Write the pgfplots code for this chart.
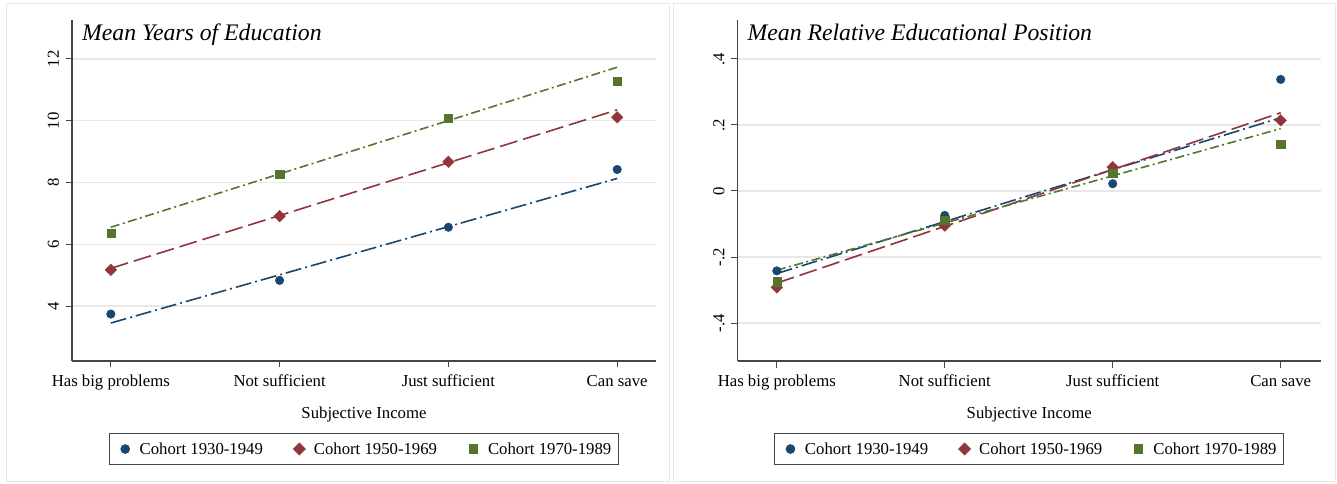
\documentclass[border=0pt]{standalone}
\usepackage{fontspec}
\setmainfont{Liberation Serif}
\usepackage{pgfplots}
\usepackage{pgfplotstable}
\pgfplotsset{compat=1.18}

\definecolor{snavy}{RGB}{26,71,111}
\definecolor{smaroon}{RGB}{144,53,59}
\definecolor{sgreen}{RGB}{85,117,47}
\definecolor{axgray}{RGB}{70,70,70}
\definecolor{bordergray}{RGB}{232,232,232}

% Mean years of education: points
\pgfplotstableread{
x y1 y2 y3
1 3.74 5.17 6.35
2 4.83 6.91 8.27
3 6.55 8.67 10.08
4 8.42 10.11 11.28
}\edu
% fitted lines
\pgfplotstableread{
x y1 y2 y3
1 3.45 5.22 6.55
4 8.13 10.35 11.73
}\edufit
% Mean relative educational position: points
\pgfplotstableread{
x y1 y2 y3
1 -0.242 -0.292 -0.275
2 -0.074 -0.105 -0.089
3 0.022 0.072 0.055
4 0.338 0.214 0.141
}\rel
\pgfplotstableread{
x y1 y2 y3
1 -0.250 -0.279 -0.240
4 0.222 0.237 0.189
}\relfit

\pgfplotsset{
  panel/.style={
    scale only axis, width=584bp, height=341bp,
    axis x line*=bottom, axis y line*=left,
    axis line style={axgray, line width=1.2bp},
    tick style={axgray, line width=1bp}, major tick length=6.5bp, tick align=outside,
    ymajorgrids, grid style={black!9, line width=1.4bp},
    xtick={1,2,3,4},
    xticklabels={Has big problems, Not sufficient, Just sufficient, Can save},
    font=\fontsize{16.8}{20}\selectfont,
    yticklabel style={rotate=90, anchor=south, yshift=3bp},
    xticklabel style={yshift=-4bp},
    xlabel={Subjective Income},
    xlabel style={at={(axis description cs:0.5,0)}, anchor=center, yshift=-53bp},
    title style={at={(axis description cs:0.017,0.922)}, anchor=base west, inner sep=0pt,
      font=\itshape\fontsize{23.8}{28}\selectfont},
    legend columns=3,
    legend style={at={(axis description cs:0.5,-0.2111)}, anchor=north, draw=axgray,
      line width=1bp, font=\fontsize{16.8}{20}\selectfont,
      /tikz/every even column/.append style={column sep=24bp},
      inner xsep=5bp, inner ysep=7bp},
    legend image code/.code={\path (0bp,0bp) (22bp,0bp); \draw[mark repeat=2,mark phase=2,#1] plot coordinates {(9bp,0bp)(10bp,0bp)(11bp,0bp)};},
  },
  ptA/.style={only marks, mark=*, mark size=4.3bp, color=snavy, mark options={solid, fill=snavy, draw=snavy}},
  ptB/.style={only marks, mark=square*, mark size=4.1bp, color=smaroon, mark options={solid, rotate=45, fill=smaroon, draw=smaroon}},
  ptC/.style={only marks, mark=square*, mark size=4.1bp, color=sgreen, mark options={solid, fill=sgreen, draw=sgreen}},
  lnA/.style={no marks, forget plot, color=snavy, line width=1.6bp, dash pattern=on 16bp off 4bp on 2bp off 4bp},
  lnB/.style={no marks, forget plot, color=smaroon, line width=1.6bp, dash pattern=on 18bp off 6bp},
  lnC/.style={no marks, forget plot, color=sgreen, line width=1.6bp, dash pattern=on 9bp off 3.5bp on 2bp off 3.5bp},
}

\begin{document}
\begin{tikzpicture}
\path[use as bounding box] (0,0) rectangle (1337bp,484bp);
\draw[bordergray, line width=1bp] (6bp,2bp) rectangle (669bp,480bp);
\draw[bordergray, line width=1bp] (673bp,2bp) rectangle (1335bp,480bp);

\begin{axis}[panel, at={(72bp,123bp)}, anchor=south west,
  xmin=0.77, xmax=4.23, ymin=2.22, ymax=13.26,
  ytick={4,6,8,10,12}, yticklabels={4,6,8,10,12},
  title={Mean Years of Education}]
  \addplot[lnA] table[x=x, y=y1] {\edufit};
  \addplot[lnB] table[x=x, y=y2] {\edufit};
  \addplot[lnC] table[x=x, y=y3] {\edufit};
  \addplot[ptA] table[x=x, y=y1] {\edu};
  \addplot[ptB] table[x=x, y=y2] {\edu};
  \addplot[ptC] table[x=x, y=y3] {\edu};
  \legend{Cohort 1930-1949, Cohort 1950-1969, Cohort 1970-1989}
\end{axis}

\begin{axis}[panel, at={(737.5bp,123bp)}, anchor=south west, width=583.5bp,
  xmin=0.766, xmax=4.24, ymin=-0.515, ymax=0.518,
  ytick={-0.4,-0.2,0,0.2,0.4}, yticklabels={-.4,-.2,0,.2,.4},
  title={Mean Relative Educational Position}]
  \addplot[lnA] table[x=x, y=y1] {\relfit};
  \addplot[lnB] table[x=x, y=y2] {\relfit};
  \addplot[lnC] table[x=x, y=y3] {\relfit};
  \addplot[ptA] table[x=x, y=y1] {\rel};
  \addplot[ptB] table[x=x, y=y2] {\rel};
  \addplot[ptC] table[x=x, y=y3] {\rel};
  \legend{Cohort 1930-1949, Cohort 1950-1969, Cohort 1970-1989}
\end{axis}
\end{tikzpicture}
\end{document}
